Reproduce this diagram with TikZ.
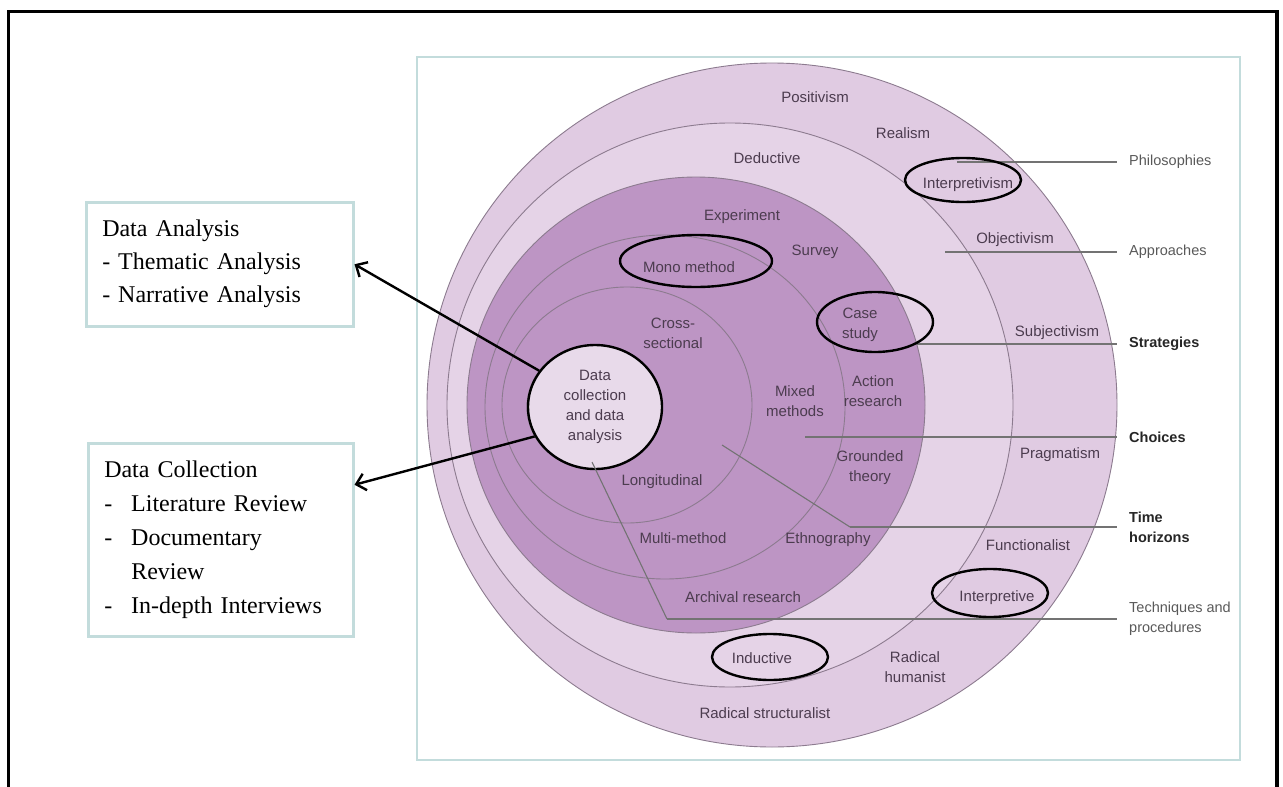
\documentclass[tikz,border=0pt]{standalone}
\usepackage{fontspec}
\setmainfont{Liberation Serif}
\setsansfont{Liberation Sans}
\usetikzlibrary{shapes.geometric,arrows.meta}

\definecolor{ringline}{HTML}{8C7B8F}
\definecolor{outerring}{HTML}{E0CBE2}
\definecolor{midring}{HTML}{E5D3E7}
\definecolor{darkring}{HTML}{BD95C4}
\definecolor{corefill}{HTML}{E8DAEA}
\definecolor{ringtext}{HTML}{4C3C4F}
\definecolor{boxline}{HTML}{C3DCDC}

\tikzstyle{ring} = [draw=ringline,line width=0.9pt]
\tikzstyle{ring label} = [font=\sffamily\fontsize{15}{20}\selectfont,text=ringtext,align=center,inner sep=1pt]
\tikzstyle{layer label} = [font=\sffamily\fontsize{14.5}{20}\selectfont,text=black!65,align=left,anchor=west,inner xsep=12pt,inner ysep=1pt]
\tikzstyle{key layer} = [layer label,font=\sffamily\bfseries\fontsize{14.5}{20}\selectfont,text=black!85]
\tikzstyle{pointer} = [draw=black!55,line width=1.1pt]
\tikzstyle{highlight} = [draw=black,line width=2.4pt]
\tikzstyle{note box} = [draw=boxline,line width=2.5pt,anchor=north west,align=left,inner xsep=16pt,font=\fontsize{24}{34}\selectfont]
\tikzstyle{edge} = [draw,line width=2.4pt,-{Straight Barb[length=9pt,width=17pt]}]

\begin{document}
\begin{tikzpicture}[x=1pt,y=-1pt]
\useasboundingbox (0,0) rectangle (1283,787);
\draw[line width=3.5pt] (8.5,787) -- (8.5,11.5) -- (1277,11.5) -- (1277,787);
\draw[boxline,line width=2.5pt] (417,57) rectangle (1240,760);

% onion rings
\draw[ring,fill=outerring] (772,405) ellipse [x radius=345, y radius=342];
\draw[ring,fill=midring] (730,405) ellipse [x radius=283, y radius=282];
\draw[ring,fill=darkring] (696,405) ellipse [x radius=229, y radius=228];
\draw[ring] (665,407) ellipse [x radius=180, y radius=172];
\draw[ring] (627,405) ellipse [x radius=125, y radius=118];
\draw[ring,fill=corefill] (586,407) circle [radius=59];

\foreach \pos/\name/\txt in {{(815,97)/positivism/Positivism}, {(903,133)/realism/Realism},
    {(968,185)/interpretivism/Interpretivism}, {(1015,240)/objectivism/Objectivism},
    {(1057,333)/subjectivism/Subjectivism}, {(1060,455)/pragmatism/Pragmatism},
    {(1028,545)/functionalist/Functionalist}, {(997,598)/interpretive/Interpretive},
    {(915,667)/humanist/Radical\\humanist}, {(765,713)/structuralist/Radical structuralist},
    {(767,158)/deductive/Deductive}, {(762,658)/inductive/Inductive},
    {(742,217)/experiment/Experiment}, {(815,252)/survey/Survey},
    {(860,325)/casestudy/Case\\study}, {(873,391)/action/Action\\research},
    {(870,468)/grounded/Grounded\\theory}, {(828,540)/ethnography/Ethnography},
    {(743,597)/archival/Archival research}, {(689,267)/mono/Mono method},
    {(795,401)/mixed/Mixed\\methods}, {(683,538)/multi/Multi-method},
    {(673,333)/cross/Cross-\\sectional}, {(662,482)/longitudinal/Longitudinal}}{
  \node[ring label] (\name) at \pos {\txt};
}

\node[ellipse,draw=black,line width=2.4pt,fill=corefill,minimum width=134pt,minimum height=124pt,
      inner sep=0pt,ring label] (datacirc) at (595,407) {Data\\collection\\and data\\analysis};

% layers on the right
\node[layer label] (philosophies) at (1117,162) {Philosophies};
\node[layer label] (approaches) at (1117,252) {Approaches};
\node[key layer] (strategies) at (1117,344) {Strategies};
\node[key layer] (choices) at (1117,437) {Choices};
\node[key layer] (horizons) at (1117,527) {Time\\horizons};
\node[layer label] (techniques) at (1117,619) {Techniques and\\procedures};

\coordinate (phil-in) at (957,162);
\coordinate (appr-in) at (945,252);
\coordinate (strat-in) at (917,344);
\coordinate (choice-in) at (805,437);
\coordinate (time-in) at (722,445);
\coordinate (time-bend) at (850,527);
\coordinate (tech-in) at (592,462);
\coordinate (tech-bend) at (667,619);

\foreach \source/\dest in {phil-in/philosophies, appr-in/approaches, strat-in/strategies,
                           choice-in/choices, time-bend/horizons, tech-bend/techniques}
  \path[pointer] (\source) -- (\dest.west);
\path[pointer] (time-in) -- (time-bend);
\path[pointer] (tech-in) -- (tech-bend);

\foreach \c/\rx/\ry in {(963,180)/58/22, (696,261)/76/26, (875,322)/58/30,
                        (990,593)/58/24, (770,657)/58/23}
  \draw[highlight] \c ellipse [x radius=\rx, y radius=\ry];

% notes on the left
\node[note box,text width=235pt,minimum height=124pt,font=\fontsize{24}{33}\selectfont] (analysis) at (85,201)
  {Data Analysis\\- Thematic Analysis\\- Narrative Analysis};
\node[note box,text width=233pt,minimum height=193pt] (collection) at (87,442)
  {Data Collection\\\makebox[27pt][l]{-}Literature Review\\\makebox[27pt][l]{-}Documentary\\
   \hspace*{27pt}Review\\\makebox[27pt][l]{-}In-depth Interviews};

\path[edge] (datacirc.147) -- (analysis.east);
\path[edge] (datacirc.206) -- ([yshift=55pt]collection.east);
\end{tikzpicture}
\end{document}
